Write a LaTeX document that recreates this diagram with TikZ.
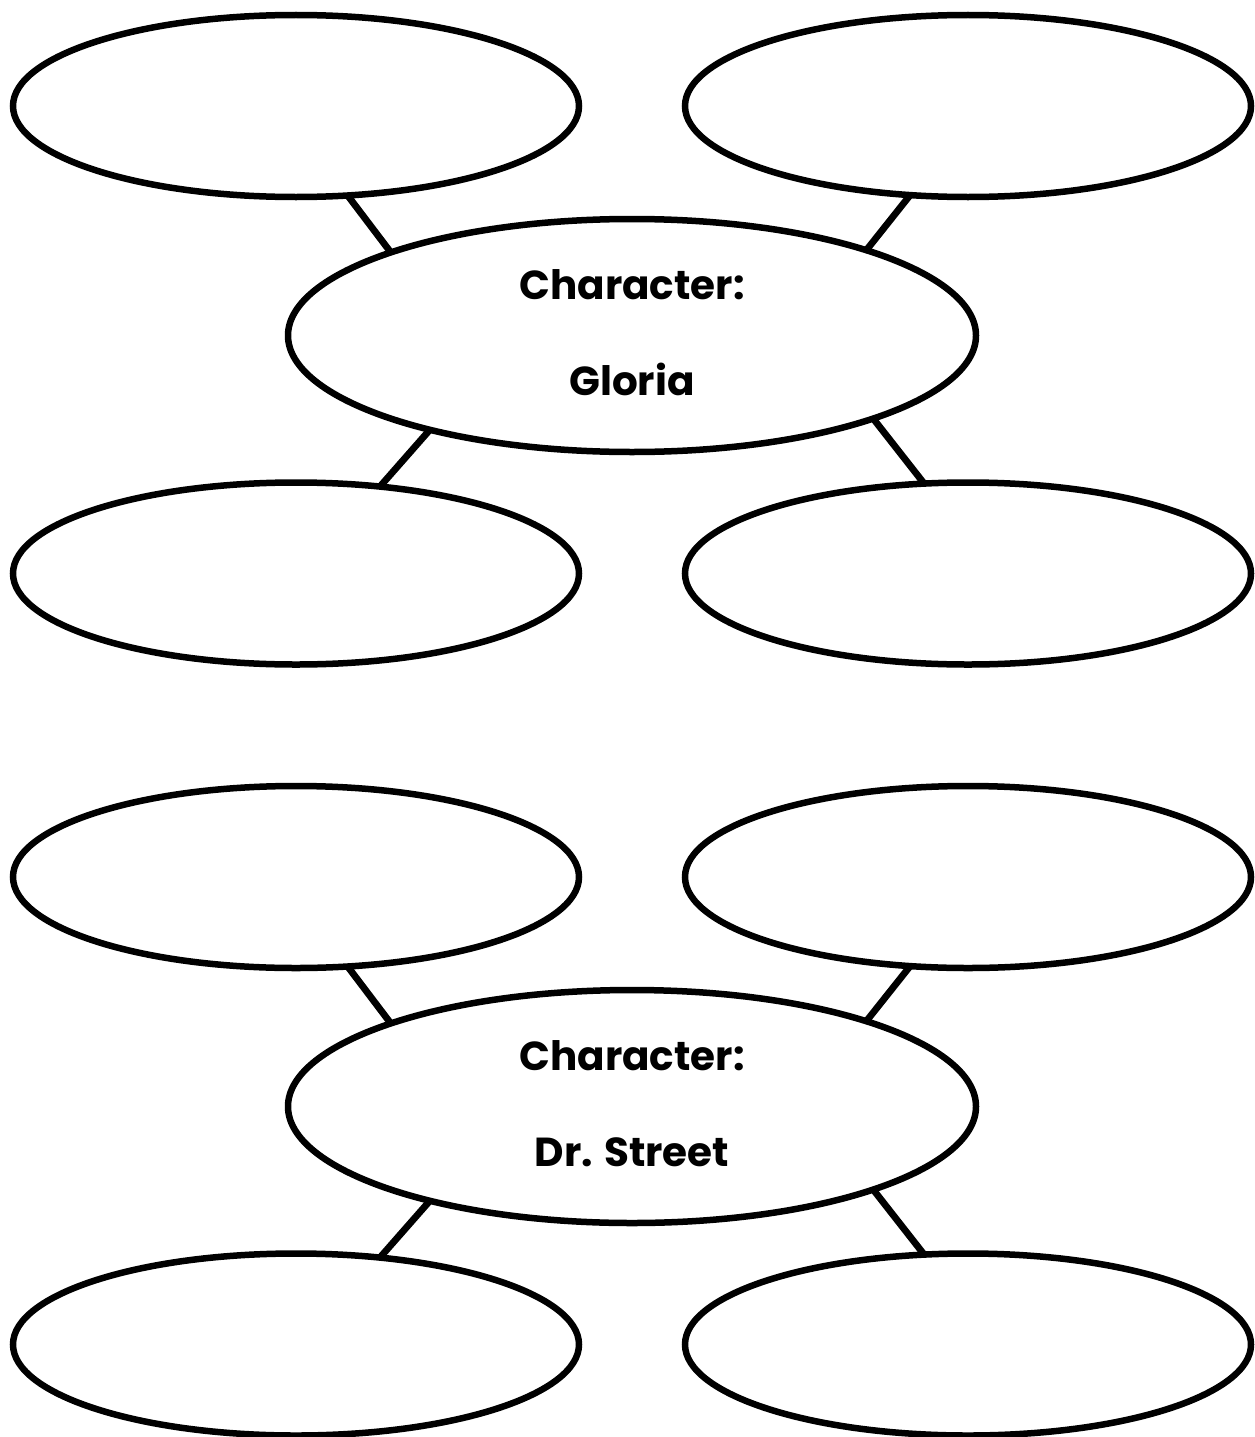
\documentclass[tikz,border=0pt]{standalone}
\usepackage{fontspec}
\setmainfont{Poppins}
\begin{document}
\begin{tikzpicture}[x=1pt,y=-1pt,
  leaf/.style={ellipse,draw=black,line width=6.5pt,fill=white,inner sep=0pt,outer sep=0pt,
               minimum width=566pt,minimum height=182pt},
  hub/.style={ellipse,draw=black,line width=6.5pt,fill=white,inner sep=0pt,outer sep=0pt,
              minimum width=688pt,minimum height=233pt},
  link/.style={draw=black,line width=6.8pt},
  label/.style={anchor=base,inner sep=0pt,font=\fontsize{40.5}{48}\selectfont\bfseries}]
\usetikzlibrary{shapes.geometric}
\useasboundingbox[fill=white] (0,0) rectangle (1255,1437);

% two character webs, one above the other
\foreach \g/\dy/\who in {a/0/Gloria, b/771/Dr. Street}{
  \node[leaf] (\g tl) at (296,106+\dy) {};
  \node[leaf] (\g tr) at (968,106+\dy) {};
  \node[hub]  (\g c)  at (632,335.5+\dy) {};
  \node[leaf] (\g bl) at (296,573.5+\dy) {};
  \node[leaf] (\g br) at (968,573.5+\dy) {};
  \draw[link] (\g tl.-60.5) -- (\g c.161);
  \draw[link] (\g tr.-123) -- (\g c.20.4);
  \draw[link] (\g c.-155.7) -- (\g bl.46);
  \draw[link] (\g c.-19.3) -- (\g br.116.7);
  \node[label] (\g name) at ([yshift=-59.5pt]\g c.center) {\who};
  \node[label] (\g head) at ([yshift=36.5pt]\g c.center) {Character:};
}
\end{tikzpicture}
\end{document}
